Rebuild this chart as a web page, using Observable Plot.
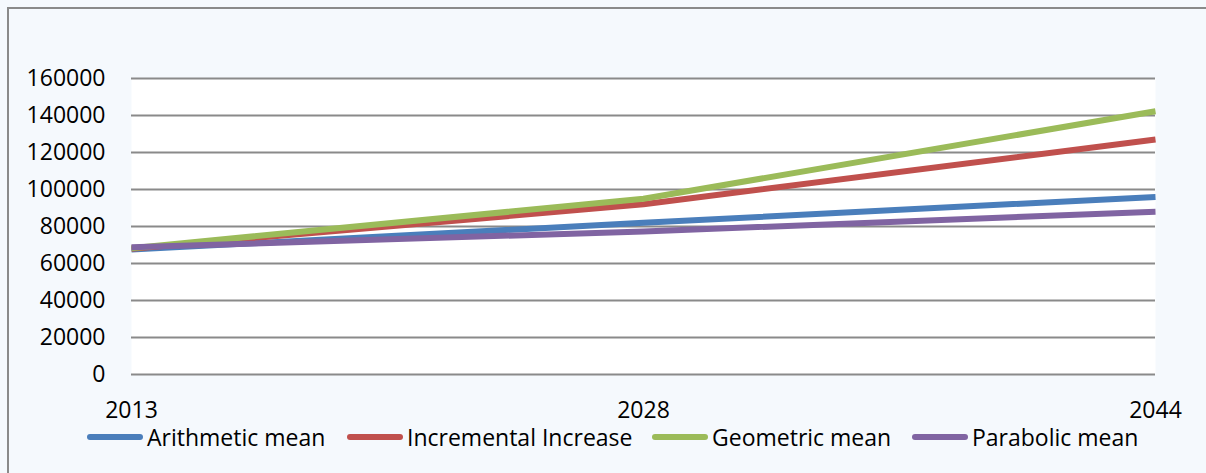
<!DOCTYPE html>
<html>
<head>
<meta charset="utf-8">
<script src="https://cdn.jsdelivr.net/npm/d3@7"></script>
<script src="https://cdn.jsdelivr.net/npm/@observablehq/plot@0.6"></script>
<style>
  html, body { margin: 0; padding: 0; overflow: hidden; background: #f5f9fd; }
  #wrap { position: relative; width: 1206px; height: 473px; background: #f5f9fd; font-family: "Open Sans", sans-serif; overflow: hidden; }
  #box { position: absolute; left: 7px; top: 7px; width: 1230px; height: 520px; border: 2px solid #8a8a8a; box-sizing: border-box; }
  #chart { position: absolute; left: 0; top: 0; }
  #legend { position: absolute; left: 0; top: 421px; width: 1206px; height: 34px; font-size: 23px; color: #000; white-space: nowrap; }
  .item { position: absolute; top: 0; display: flex; align-items: center; }
  .swatch { width: 56px; height: 6px; border-radius: 3px; margin-right: 4px; }
</style>
</head>
<body>
<div id="wrap">
  <div id="box"></div>
  <div id="chart"></div>
  <div id="legend"></div>
</div>
<script>
// Population projections by method
const years = ["2013", "2028", "2044"];
const seriesNames = ["Arithmetic mean", "Incremental Increase", "Geometric mean", "Parabolic mean"];
const seriesColors = ["#4a7ebb", "#c0504d", "#9bbb59", "#8064a2"];
const arithmeticMean = [67500, 82000, 96000];
const incrementalIncrease = [68000, 92000, 127000];
const geometricMean = [68300, 95000, 142300];
const parabolicMean = [68800, 77300, 88000];
const yTicks = [0, 20000, 40000, 60000, 80000, 100000, 120000, 140000, 160000];

const seriesValues = [arithmeticMean, incrementalIncrease, geometricMean, parabolicMean];
const rows = seriesNames.flatMap((name, i) =>
  years.map((year, j) => ({ series: name, year, value: seriesValues[i][j] }))
);

const chart = Plot.plot({
  width: 1206,
  height: 473,
  marginLeft: 131,
  marginRight: 51,
  marginTop: 78,
  marginBottom: 99,
  style: { background: "transparent", fontFamily: "Open Sans, sans-serif", fontSize: "23px", color: "#000" },
  x: { type: "point", domain: years, padding: 0, label: null },
  y: { domain: [0, 160000], label: null },
  color: { domain: seriesNames, range: seriesColors },
  marks: [
    Plot.frame({ fill: "white", stroke: null }),
    Plot.ruleY(yTicks, { stroke: "#8a8a8a", strokeWidth: 2 }),
    Plot.axisY({ ticks: yTicks, tickSize: 0, tickPadding: 26, tickFormat: d => String(d), label: null, fontSize: 23 }),
    Plot.axisX({ tickSize: 0, tickPadding: 27, label: null, fontSize: 23 }),
    Plot.line(rows, { x: "year", y: "value", z: "series", stroke: "series", strokeWidth: 6, strokeLinecap: "butt", strokeLinejoin: "round" })
  ]
});
document.getElementById("chart").appendChild(chart);

// Legend row below the plot, one entry per series
const legendLeft = [87, 347, 652, 912];
const legend = document.getElementById("legend");
seriesNames.forEach((name, i) => {
  const item = document.createElement("div");
  item.className = "item";
  item.style.left = legendLeft[i] + "px";
  const sw = document.createElement("span");
  sw.className = "swatch";
  sw.style.background = seriesColors[i];
  const label = document.createElement("span");
  label.textContent = name;
  item.appendChild(sw);
  item.appendChild(label);
  legend.appendChild(item);
});
</script>
</body>
</html>
